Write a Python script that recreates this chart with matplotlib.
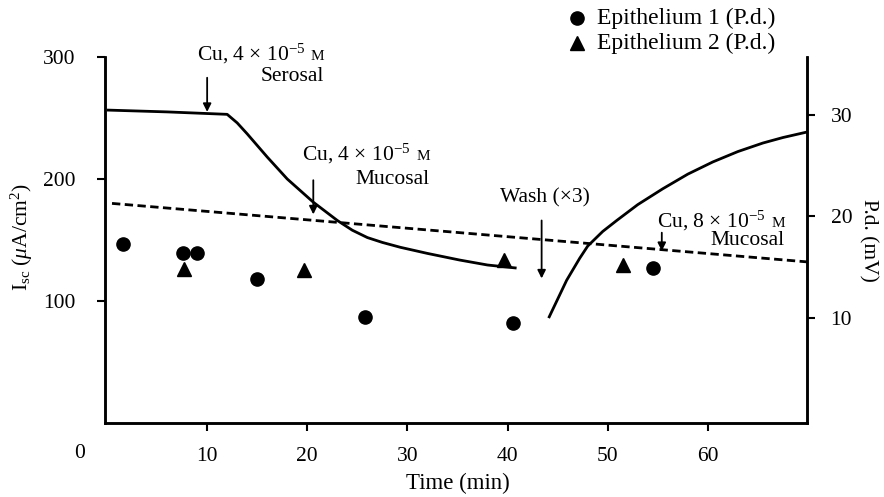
import matplotlib
matplotlib.use("Agg")
import matplotlib.pyplot as plt
from matplotlib.lines import Line2D

plt.rcParams['font.family'] = ['Liberation Serif', 'DejaVu Serif']
plt.rcParams['mathtext.fontset'] = 'custom'
plt.rcParams['mathtext.rm'] = 'Liberation Serif'
plt.rcParams['mathtext.it'] = 'Liberation Serif:italic'

# ---- data ----
solid1_t = [0, 6, 12, 13, 14, 16, 18, 20.6, 23, 24.5, 26, 27.5, 29.3, 32, 35.2, 38, 40.9]
solid1_isc = [256.5, 255, 253, 246, 237, 218, 200, 181, 166, 158, 152, 148, 144,
              139, 133.6, 129.5, 127]
solid2_t = [44.1, 45.9, 47.2, 48, 49.5, 50.9, 53, 55.5, 58, 60.5, 63, 65.5, 67.5, 69.9]
solid2_isc = [86, 117, 135, 145, 157, 166, 179, 192, 204, 214, 222.5, 229.5, 234, 238.5]
dashed_t = [0.5, 70]
dashed_isc = [180, 132]

ep1_t = [1.6, 7.6, 9.0, 15.0, 25.8, 40.5, 54.5]
ep1_pd = [17.3, 16.4, 16.4, 13.8, 10.1, 9.5, 14.9]
ep2_t = [7.7, 19.7, 39.6, 51.5]
ep2_pd = [14.8, 14.7, 15.7, 15.2]

xticks = [10, 20, 30, 40, 50, 60]
yticks_left = [100, 200, 300]
yticks_right = [10, 20, 30]

W, H = 884, 497
fig = plt.figure(figsize=(W / 100, H / 100), dpi=100)
ax = fig.add_axes([105 / W, 1 - 423 / H, (807 - 105) / W, (423 - 57) / H])
ax2 = ax.twinx()

FS = 15.5
ax.set_xlim(-0.2, 69.9)
ax.set_ylim(0, 300)
ax2.set_ylim(-0.34, 35.7)

ax.plot(solid1_t, solid1_isc, color='black', lw=2, solid_capstyle='butt',
        solid_joinstyle='round')
ax.plot(solid2_t, solid2_isc, color='black', lw=2, solid_capstyle='butt',
        solid_joinstyle='round')
ax.plot(dashed_t, dashed_isc, color='black', lw=2, dashes=(3, 1.6))

ax2.plot(ep1_t, ep1_pd, 'o', color='black', ms=9.5, ls='none')
ax2.plot(ep2_t, ep2_pd, '^', color='black', ms=9.5, ls='none')

for a in (ax, ax2):
    a.spines['top'].set_visible(False)
    for s in ('left', 'right', 'bottom'):
        a.spines[s].set_linewidth(1.8)
ax.set_xticks(xticks)
ax.set_yticks(yticks_left)
ax2.set_yticks(yticks_right)
ax.tick_params(axis='x', length=6, width=1.5, labelsize=FS, pad=11)
ax.tick_params(axis='y', length=6, width=1.5, labelsize=FS, pad=15)
ax2.tick_params(axis='y', length=6, width=1.5, labelsize=FS, pad=11)

fig.text(80 / W, 1 - 453 / H, '0', fontsize=FS, ha='center', va='center')
fig.text(458 / W, 1 - 483 / H, 'Time (min)', fontsize=FS + 1, ha='center', va='center')
fig.text(22 / W, 1 - 237 / H, r'I$_{\rm sc}$ ($\mu$A/cm$^2$)', fontsize=FS,
         ha='center', va='center', rotation=90)
fig.text(868 / W, 1 - 240 / H, 'P.d. (mV)', fontsize=FS, ha='center', va='center',
         rotation=270)

# ---- annotations ----
def px2x(px):
    return (px - 106.8) / 10.02

def py2y(py):
    return (422.5 - py) / 1.218

def label(right_px, base1_py, base2_py, line1, line2):
    ax.text(px2x(right_px - 19), py2y(base1_py), line1, fontsize=FS, ha='right',
            va='baseline')
    ax.text(px2x(right_px), py2y(base1_py), 'M', fontsize=11, ha='right',
            va='baseline')
    ax.text(px2x(right_px), py2y(base2_py), line2, fontsize=FS, ha='right',
            va='baseline')

def arrow(xd, y0, y1):
    ax.annotate('', xy=(xd, y1), xytext=(xd, y0),
                arrowprops=dict(arrowstyle='-|>', color='black', lw=1.3,
                                mutation_scale=12, shrinkA=0, shrinkB=0))

label(324, 60, 81, r'Cu, 4 × 10$^{-5}$', 'Serosal')
arrow(10, 283, 255)
label(430, 160, 184, r'Cu, 4 × 10$^{-5}$', 'Mucosal')
arrow(20.6, 199, 171)
ax.text(px2x(545), py2y(202), 'Wash (×3)', fontsize=FS, ha='center',
        va='baseline')
arrow(43.4, 166, 118.5)
label(785, 227, 245, r'Cu, 8 × 10$^{-5}$', 'Mucosal')
arrow(55.4, 156, 141)

# ---- legend ----
fig.add_artist(Line2D([577 / W], [1 - 18 / H], marker='o', ms=9.5, color='black',
                      transform=fig.transFigure))
fig.add_artist(Line2D([577 / W], [1 - 43 / H], marker='^', ms=9.5, color='black',
                      transform=fig.transFigure))
fig.text(597 / W, 1 - 18 / H, 'Epithelium 1 (P.d.)', fontsize=FS + 1.5, ha='left',
         va='center')
fig.text(597 / W, 1 - 43 / H, 'Epithelium 2 (P.d.)', fontsize=FS + 1.5, ha='left',
         va='center')

fig.savefig('out.png', dpi=100)
